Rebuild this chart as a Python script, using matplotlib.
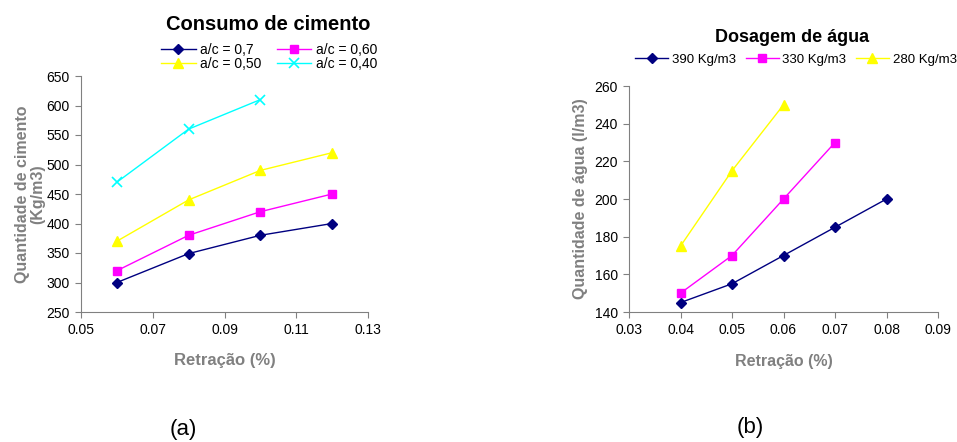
import matplotlib
matplotlib.use("Agg")
import matplotlib.pyplot as plt

plt.rcParams['font.family'] = ['Liberation Sans', 'DejaVu Sans']

# (a) Consumo de cimento
retr_a = [0.06, 0.08, 0.10, 0.12]
ac070 = [300, 349, 380, 400]
ac060 = [320, 380, 420, 450]
ac050 = [370, 440, 490, 520]
retr_a40 = [0.06, 0.08, 0.10]
ac040 = [470, 560, 610]

# (b) Dosagem de agua
retr_390 = [0.04, 0.05, 0.06, 0.07, 0.08]
agua_390 = [145, 155, 170, 185, 200]
retr_330 = [0.04, 0.05, 0.06, 0.07]
agua_330 = [150, 170, 200, 230]
retr_280 = [0.04, 0.05, 0.06]
agua_280 = [175, 215, 250]

gray = '#808080'
W, H = 957, 442
fig = plt.figure(figsize=(W / 100, H / 100), dpi=100)

def style(ax):
    for s in ['top', 'right']:
        ax.spines[s].set_visible(False)
    for s in ['left', 'bottom']:
        ax.spines[s].set_color(gray)
        ax.spines[s].set_linewidth(0.8)
    ax.tick_params(direction='out', length=4, width=0.8, color=gray,
                   labelsize=10, pad=4)

ax1 = fig.add_axes([81 / W, 1 - 312 / H, 287 / W, 236 / H])
l1, = ax1.plot(retr_a, ac070, color='#000080', marker='D', ms=5.5, lw=1, label='a/c = 0,7')
l2, = ax1.plot(retr_a, ac060, color='#FF00FF', marker='s', ms=6, lw=1, label='a/c = 0,60')
l3, = ax1.plot(retr_a, ac050, color='#FFFF00', marker='^', ms=7.5, lw=1, label='a/c = 0,50')
l4, = ax1.plot(retr_a40, ac040, color='#00FFFF', marker='x', ms=7, mew=1.2, lw=1, label='a/c = 0,40')
ax1.set_xlim(0.05, 0.13)
ax1.set_ylim(250, 650)
ax1.set_xticks([0.05, 0.07, 0.09, 0.11, 0.13])
ax1.set_xticklabels(['0.05', '0.07', '0.09', '0.11', '0.13'])
ax1.set_yticks(range(250, 651, 50))
style(ax1)
ax1.set_xlabel('Retração (%)', color=gray, fontweight='bold', fontsize=12)
ax1.xaxis.set_label_coords(0.502, -0.175)
ax1.set_ylabel('Quantidade de cimento\n(Kg/m3)', color=gray, fontweight='bold',
               fontsize=11.5, linespacing=1.0)
ax1.yaxis.set_label_coords(-0.125, 0.5)
fig.text(268 / W, 1 - 24 / H, 'Consumo de cimento', fontweight='bold', fontsize=14.5,
         ha='center', va='center')
# row-wise order: 0,7 / 0,60 on first row, 0,50 / 0,40 on second
fig.legend([l1, l3, l2, l4], [l1.get_label(), l3.get_label(), l2.get_label(), l4.get_label()],
           ncol=2, loc='center', bbox_to_anchor=(269 / W, 1 - 56.5 / H), frameon=False,
           fontsize=10, handlelength=2.5, columnspacing=1.1, labelspacing=0.0,
           borderpad=0, borderaxespad=0, handletextpad=0.3)

ax2 = fig.add_axes([629 / W, 1 - 312 / H, 309 / W, 226 / H])
m1, = ax2.plot(retr_390, agua_390, color='#000080', marker='D', ms=5.5, lw=1, label='390 Kg/m3')
m2, = ax2.plot(retr_330, agua_330, color='#FF00FF', marker='s', ms=6, lw=1, label='330 Kg/m3')
m3, = ax2.plot(retr_280, agua_280, color='#FFFF00', marker='^', ms=7.5, lw=1, label='280 Kg/m3')
ax2.set_xlim(0.03, 0.09)
ax2.set_ylim(140, 260)
ax2.set_xticks([0.03, 0.04, 0.05, 0.06, 0.07, 0.08, 0.09])
ax2.set_xticklabels(['0.03', '0.04', '0.05', '0.06', '0.07', '0.08', '0.09'])
ax2.set_yticks(range(140, 261, 20))
style(ax2)
ax2.set_xlabel('Retração (%)', color=gray, fontweight='bold', fontsize=11.5)
ax2.xaxis.set_label_coords(0.50, -0.185)
ax2.set_ylabel('Quantidade de água (l/m3)', color=gray, fontweight='bold', fontsize=11.5)
ax2.yaxis.set_label_coords(-0.132, 0.5)
fig.text(792 / W, 1 - 37 / H, 'Dosagem de água', fontweight='bold', fontsize=13,
         ha='center', va='center')
fig.legend([m1, m2, m3], [m1.get_label(), m2.get_label(), m3.get_label()],
           ncol=3, loc='center', bbox_to_anchor=(796 / W, 1 - 60 / H), frameon=False,
           fontsize=9.5, handlelength=2.5, columnspacing=0.7, borderpad=0,
           borderaxespad=0, handletextpad=0.3)

fig.text(183 / W, 1 - 430 / H, '(a)', fontsize=16, ha='center', va='center')
fig.text(750 / W, 1 - 428 / H, '(b)', fontsize=16, ha='center', va='center')

fig.savefig('out.png', dpi=100)
